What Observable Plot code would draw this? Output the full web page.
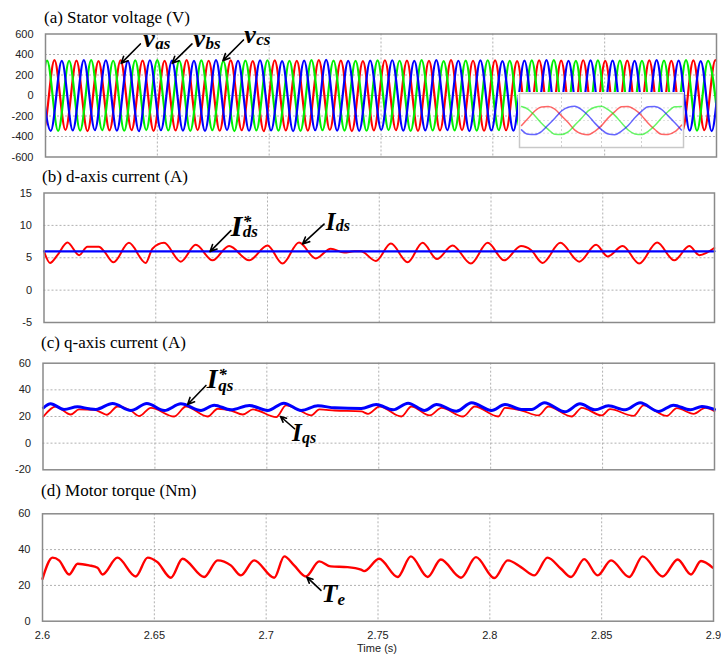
<!DOCTYPE html>
<html><head><meta charset="utf-8">
<script src="https://cdn.jsdelivr.net/npm/d3@7"></script>
<script src="https://cdn.jsdelivr.net/npm/@observablehq/plot@0.6"></script>
<style>
body{margin:0;background:#fff;}
#root{position:relative;width:721px;height:655px;overflow:hidden;background:#fff;}
.ttl{position:absolute;font-family:"Liberation Serif","Times New Roman",serif;font-size:17px;color:#000;white-space:nowrap;line-height:1;}
.xl{position:absolute;font-family:"Liberation Sans",Arial,sans-serif;font-size:11px;color:#222;white-space:nowrap;line-height:1;transform:translateX(-50%);}
</style></head>
<body><div id="root"></div>
<script>
// ---------- axes / ticks ----------
const xTicks = [2.6, 2.65, 2.7, 2.75, 2.8, 2.85, 2.9];
const xTickLabels = ["2.6", "2.65", "2.7", "2.75", "2.8", "2.85", "2.9"];
const xGrid = [2.65, 2.7, 2.75, 2.8, 2.85];
const yTicksA = [-600, -400, -200, 0, 200, 400, 600];
const yTicksB = [-5, 0, 5, 10, 15];
const yTicksC = [-20, 0, 20, 40, 60];
const yTicksD = [0, 20, 40, 60];
const titles = ["(a) Stator voltage (V)", "(b) d-axis current (A)", "(c) q-axis current (A)", "(d) Motor torque (Nm)"];

// ---------- (a) stator voltages: successive peak / trough values ----------
const vHalf = 0.004925;            // time between successive extremes
const vasStart = 2.59415, vbsStart = 2.59743, vcsStart = 2.59087;
const vasPk = [338,-342,345,-336,340,-348,336,-340, 344,-338,341,-345,337,-341,346,-337,
               339,-344,342,-339,336,-347,343,-340, 338,-342,345,-336,340,-348,336,-340,
               344,-338,341,-345,337,-341,346,-337, 339,-344,342,-339,336,-347,343,-340,
               341,-339,344,-342,338,-345,340,-337, 343,-341,337,-346,342,-338,345,-340];
const vbsPk = [341,-345,337,-340,346,-338,342,-343, 336,-347,344,-339,340,-342,338,-346,
               345,-337,339,-344,343,-341,336,-348, 340,-339,347,-342,338,-345,341,-336,
               344,-343,337,-340,345,-338,339,-347, 342,-341,336,-344,340,-339,346,-342,
               338,-346,343,-337,341,-344,337,-340, 345,-338,340,-343,336,-347,342,-339];
const vcsPk = [344,-339,341,-346,337,-342,345,-338, 339,-344,343,-337,346,-341,338,-345,
               342,-338,336,-347,341,-340,344,-343, 337,-345,346,-339,340,-342,338,-344,
               343,-337,339,-346,345,-341,336,-340, 341,-343,344,-338,337,-347,342,-339,
               346,-340,338,-342,343,-336,340,-345, 339,-344,341,-337,345,-342,337,-341];
// zoomed inset (samples every 30 deg)
const insVas = [-120,52,225,318,330,268,110,-50,-228,-315,-338,-255,-122,62,212,325,332,255,120,-65,-214,-326,-330,-265,-110];
const insVbs = [-222,-328,-332,-262,-108,55,225,316,338,258,120,-62,-215,-322,-336,-250,-118,64,216,328,330,266,110,-55,-226];
const insVcs = [330,264,112,-64,-212,-326,-330,-268,-110,52,228,314,338,255,122,-56,-225,-318,-334,-258,-120,60,214,324,332];

// ---------- (b) d-axis current ----------
const idsRefT = [2.6, 2.9];
const idsRefV = [6, 6];
const idsT = [2.6000,2.6027,2.6060,2.6105,2.6157,2.6194,2.6246,2.6269,2.6311,2.6380,2.6455,2.6485,2.6537,2.6612,2.6679,2.6754,2.6828,2.6918,2.7000,2.7067,2.7141,2.7216,2.7283,2.7343,2.7388,2.7418,2.7485,2.7552,2.7627,2.7694,2.7758,2.7828,2.7910,2.7985,2.8059,2.8134,2.8179,2.8231,2.8310,2.8395,2.8470,2.8522,2.8589,2.8663,2.8743,2.8820,2.8887,2.8932,2.8999];
const idsV = [6.0,4.2,5.4,7.35,5.4,6.7,6.7,6.0,4.3,7.3,4.2,6.4,7.3,4.4,7.0,4.6,6.8,4.6,6.9,4.1,7.35,4.9,6.4,5.8,6.0,6.0,4.5,7.2,4.3,7.3,4.8,6.9,4.1,7.3,4.6,6.8,6.2,4.2,7.3,4.4,7.0,5.2,6.8,4.1,7.35,4.6,6.8,5.4,6.5];

// ---------- (c) q-axis current ----------
const iqsRefT = [2.6002,2.6034,2.6094,2.6154,2.6206,2.6236,2.6311,2.6393,2.6464,2.6542,2.6616,2.6706,2.6765,2.6840,2.6922,2.7004,2.7076,2.7154,2.7228,2.7303,2.7422,2.7489,2.7564,2.7631,2.7705,2.7758,2.7847,2.7915,2.8004,2.8064,2.8138,2.8183,2.8240,2.8332,2.8399,2.8466,2.8526,2.8601,2.8668,2.8750,2.8817,2.8892,2.8944,2.9000];
const iqsRefV = [26.5,29.5,25.3,27.3,25.8,25.3,29.8,24.5,29.8,24.5,29.5,24.5,28.5,25.0,28.3,24.5,30.0,24.5,28.0,26.5,26.0,29.0,25.0,30.0,24.5,29.0,24.0,30.3,24.5,29.0,25.3,25.3,30.3,23.5,29.5,25.0,28.0,25.0,30.3,23.8,28.5,25.0,27.5,25.3];
const iqsT = [2.6002,2.6057,2.6124,2.6161,2.6228,2.6273,2.6285,2.6333,2.6393,2.6430,2.6482,2.6586,2.6639,2.6736,2.6781,2.6840,2.6893,2.6938,2.7042,2.7086,2.7146,2.7198,2.7235,2.7303,2.7422,2.7452,2.7504,2.7601,2.7646,2.7728,2.7780,2.7877,2.7929,2.8034,2.8064,2.8138,2.8213,2.8258,2.8362,2.8407,2.8496,2.8533,2.8638,2.8683,2.8787,2.8832,2.8907,2.8959,2.9000];
const iqsV = [20.0,27.5,21.5,25.3,25.0,22.0,21.3,27.5,24.3,20.3,26.5,20.0,27.5,20.0,25.8,24.5,21.5,25.3,19.5,28.3,24.5,20.8,25.3,24.5,23.8,22.0,27.5,20.0,27.5,20.8,26.5,20.0,27.5,20.0,26.5,24.5,20.8,27.5,20.0,26.5,20.8,25.5,20.5,28.3,20.5,26.3,22.0,26.5,24.0];

// ---------- (d) motor torque ----------
const teT = [2.6000,2.6045,2.6074,2.6119,2.6157,2.6208,2.6246,2.6268,2.6335,2.6417,2.6470,2.6514,2.6574,2.6626,2.6723,2.6783,2.6842,2.6887,2.6946,2.7036,2.7081,2.7125,2.7178,2.7237,2.7289,2.7364,2.7424,2.7438,2.7505,2.7588,2.7647,2.7722,2.7781,2.7871,2.7938,2.8020,2.8080,2.8139,2.8199,2.8258,2.8318,2.8363,2.8422,2.8482,2.8542,2.8623,2.8683,2.8773,2.8840,2.8899,2.8944,2.8996];
const teV = [23.7,35.5,34.0,26.1,32.1,31.2,29.9,26.1,35.5,25.0,35.5,33.0,24.3,34.9,24.7,34.0,31.2,25.6,34.0,24.3,36.2,31.2,25.0,33.4,30.6,30.2,28.8,28.0,34.9,24.7,36.2,24.7,34.5,24.3,35.8,24.1,34.0,30.2,25.6,35.5,29.3,24.7,34.7,25.6,34.0,24.7,36.2,25.0,34.5,26.1,33.6,29.9];

// ---------- annotations (data units) ----------
const arrowsA = [{t1:2.6424,v1:503,t2:2.6338,v2:314},{t1:2.6655,v1:503,t2:2.6566,v2:314},{t1:2.6885,v1:542,t2:2.6793,v2:340}];
const arrowsB = [{t1:2.6836,v1:9.19,t2:2.6743,v2:5.95},{t1:2.7253,v1:10.2,t2:2.7157,v2:7.14}];
const arrowsC = [{t1:2.6728,v1:43.3,t2:2.6646,v2:29.0},{t1:2.7124,v1:10.8,t2:2.7061,v2:20.0}];
const arrowsD = [{t1:2.7245,v1:17.2,t2:2.7182,v2:24.6}];
const labelsA = [
  {t:2.64375,v:470,main:"v",sub:"as",size:26,subSize:17,subDx:12,subDy:2},
  {t:2.6662,v:470,main:"v",sub:"bs",size:26,subSize:17,subDx:12,subDy:2},
  {t:2.68884,v:509,main:"v",sub:"cs",size:26,subSize:17,subDx:12,subDy:2}];
const labelsB = [
  {t:2.68357,v:8.31,main:"I",sub:"ds",star:true,size:30,subSize:17,subDx:12,subDy:1},
  {t:2.7261,v:9.34,main:"I",sub:"ds",size:25,subSize:16,subDx:10,subDy:1}];
const labelsC = [
  {t:2.67314,v:41.5,main:"I",sub:"qs",star:true,size:28,subSize:17,subDx:11.5,subDy:3},
  {t:2.71124,v:1.5,main:"I",sub:"qs",size:25,subSize:16,subDx:10,subDy:2}];
const labelsD = [{t:2.72478,v:10.6,main:"T",sub:"e",size:26,subSize:17,subDx:16,subDy:3}];

// ---------- helpers ----------
const SANS = "'Liberation Sans', Arial, Helvetica, sans-serif";
const SERIF = "'Liberation Serif', 'Times New Roman', Times, serif";
const root = document.getElementById("root");
const RED = "#ff0000", GREEN = "#00f000", BLUE = "#0000ff";
const rows = (ts, vs) => ts.map((t, i) => ({t, v: vs[i]}));
const wave = (start, vals) => vals.map((v, i) => ({t: start + i * vHalf, v}));
const idx = (vals) => vals.map((v, i) => ({i, v}));
const gridS = {stroke: "#b0b0b0", strokeWidth: 1, strokeDasharray: "2,2"};
const baseStyle = {background: "transparent", fontFamily: SANS, fontSize: "11px", color: "#222", overflow: "visible"};

function addTitle(txt, left, top) {
  const d = document.createElement("div");
  d.className = "ttl"; d.textContent = txt;
  d.style.left = left + "px"; d.style.top = top + "px";
  root.appendChild(d);
}
function addPlot(p, top, left = 0) {
  p.style.position = "absolute"; p.style.left = left + "px"; p.style.top = top + "px";
  root.appendChild(p);
}
function arrowMarks(data) {
  return [Plot.arrow(data, {x1: "t1", y1: "v1", x2: "t2", y2: "v2", stroke: "#000", strokeWidth: 1.6, headLength: 7, headAngle: 50})];
}
function labelMarks(labels) {
  const m = [];
  for (const L of labels) {
    m.push(Plot.text([L], {x: "t", y: "v", text: d => d.main, fontFamily: SERIF, fontWeight: "bold", fontStyle: "italic",
      fontSize: L.size, textAnchor: "start", lineAnchor: "bottom", fill: "#000"}));
    // subscript (with the superscript star stacked above it when present) as one text element
    m.push(Plot.text([L], {x: "t", y: "v", text: d => d.star ? "*\n" + d.sub : d.sub, fontFamily: SERIF, fontWeight: "bold", fontStyle: "italic",
      fontSize: L.subSize, lineHeight: 0.62, textAnchor: "start", lineAnchor: "bottom", fill: "#000", dx: L.subDx, dy: L.subDy}));
  }
  return m;
}
function panel({top, mt, mb, ml, mr, h, yDomain, yTicks, lines, arrows, labels, xAxis}) {
  const marks = [
    Plot.ruleX(xGrid, gridS),
    Plot.ruleY(yTicks.slice(1, -1), gridS),
    ...lines,
    Plot.frame({stroke: "#8a8a8a", strokeWidth: 1.5}),
    Plot.axisY(yTicks, {tickSize: 0, tickPadding: 12, label: null, tickFormat: d => String(d), fill: "#222"}),
    ...arrowMarks(arrows),
    ...labelMarks(labels)
  ];
  if (xAxis) marks.push(Plot.axisX(xTicks, {tickSize: 0, tickPadding: 10, label: null, tickFormat: (d, i) => xTickLabels[i], fill: "#222"}));
  const p = Plot.plot({
    width: 721, height: h, marginTop: mt, marginBottom: mb, marginLeft: ml, marginRight: mr,
    x: {domain: [2.6, 2.9], axis: xAxis ? undefined : null},
    y: {domain: yDomain},
    style: baseStyle,
    marks
  });
  addPlot(p, top);
}

// ---------- panel (a) ----------
panel({top: 23, mt: 10.5, mb: 10.5, ml: 45, mr: 5, h: 144, yDomain: [-600, 600], yTicks: yTicksA,
  lines: [
    Plot.line(wave(vasStart, vasPk), {x: "t", y: "v", stroke: RED, strokeWidth: 2.2, curve: "monotone-x", clip: true}),
    Plot.line(wave(vcsStart, vcsPk), {x: "t", y: "v", stroke: GREEN, strokeWidth: 2.2, curve: "monotone-x", clip: true}),
    Plot.line(wave(vbsStart, vbsPk), {x: "t", y: "v", stroke: BLUE, strokeWidth: 2.2, curve: "monotone-x", clip: true})
  ], arrows: arrowsA, labels: labelsA});

// inset
const inset = Plot.plot({
  width: 166, height: 56, marginTop: 1, marginBottom: 1, marginLeft: 1, marginRight: 1,
  x: {domain: [-0.3, 24.3], axis: null},
  y: {domain: [-640, 640], axis: null},
  style: {background: "#fff", overflow: "visible"},
  marks: [
    Plot.ruleX([6, 12, 18], {stroke: "#d0d0d0", strokeDasharray: "2,2"}),
    Plot.ruleY([-300, 0, 300], {stroke: "#e0e0e0", strokeDasharray: "2,2"}),
    Plot.line(idx(insVas), {x: "i", y: "v", stroke: RED, strokeOpacity: 0.6, strokeWidth: 1.5, curve: "monotone-x"}),
    Plot.line(idx(insVcs), {x: "i", y: "v", stroke: GREEN, strokeOpacity: 0.6, strokeWidth: 1.5, curve: "monotone-x"}),
    Plot.line(idx(insVbs), {x: "i", y: "v", stroke: BLUE, strokeOpacity: 0.6, strokeWidth: 1.5, curve: "monotone-x"}),
    Plot.frame({stroke: "#c8c8c8", strokeWidth: 1.5})
  ]
});
addPlot(inset, 92, 518);

// ---------- panel (b) ----------
panel({top: 182, mt: 10.5, mb: 10, ml: 43.5, mr: 7, h: 150, yDomain: [-5, 15], yTicks: yTicksB,
  lines: [
    Plot.line(rows(idsT, idsV), {x: "t", y: "v", stroke: RED, strokeWidth: 2, curve: "monotone-x"}),
    Plot.line(rows(idsRefT, idsRefV), {x: "t", y: "v", stroke: BLUE, strokeWidth: 2.2})
  ], arrows: arrowsB, labels: labelsB});

// ---------- panel (c) ----------
panel({top: 352, mt: 10.7, mb: 10.7, ml: 42.5, mr: 7, h: 128, yDomain: [-20, 60], yTicks: yTicksC,
  lines: [
    Plot.line(rows(iqsT, iqsV), {x: "t", y: "v", stroke: RED, strokeWidth: 1.8, curve: "monotone-x"}),
    Plot.line(rows(iqsRefT, iqsRefV), {x: "t", y: "v", stroke: BLUE, strokeWidth: 3, curve: "monotone-x"})
  ], arrows: arrowsC, labels: labelsC});

// ---------- panel (d) ----------
panel({top: 503, mt: 10.3, mb: 30.3, ml: 42, mr: 8, h: 148, yDomain: [0, 60], yTicks: yTicksD,
  lines: [
    Plot.line(rows(teT, teV), {x: "t", y: "v", stroke: RED, strokeWidth: 2.4, curve: "monotone-x"})
  ], arrows: arrowsD, labels: labelsD, xAxis: true});

// ---------- titles ----------
addTitle(titles[0], 44, 9);
addTitle(titles[1], 42, 168);
addTitle(titles[2], 41, 334);
addTitle(titles[3], 41, 482);
const xl = document.createElement("div");
xl.className = "xl"; xl.textContent = "Time (s)";
xl.style.left = "377px"; xl.style.top = "643px";
root.appendChild(xl);
</script>
</body></html>
